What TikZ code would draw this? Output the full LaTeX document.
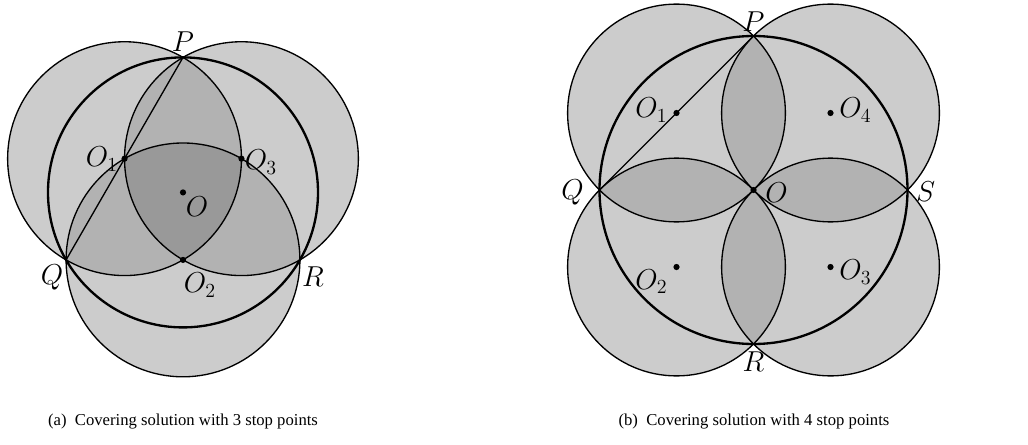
\documentclass[tikz,border=0pt]{standalone}
\usepackage{fontspec}
\setmainfont{Liberation Serif}
\usepackage{amsmath}
\usetikzlibrary{calc}
\tikzset{lbl/.style={inner sep=0pt,font=\fontsize{18.5}{22}\selectfont},
  capt/.style={inner sep=0pt,font=\fontsize{10}{12}\selectfont},
  thinline/.style={line width=0.8pt},
  bigline/.style={line width=1.4pt}}

\begin{document}
\begin{tikzpicture}[x=0.6pt,y=0.6pt,line join=round]
\useasboundingbox (0,0) rectangle (1028,444);
% --- (a) three stop points, discs on the sides of PQR
\begin{scope}[shift={(183,251.6)}]
\coordinate (aO) at (0,0);
\coordinate (aP) at (90:135); \coordinate (aQ) at (210:135); \coordinate (aR) at (330:135);
\coordinate (aO1) at ($(aP)!0.5!(aQ)$); \coordinate (aO2) at ($(aQ)!0.5!(aR)$); \coordinate (aO3) at ($(aP)!0.5!(aR)$);
\foreach \c in {aO1,aO2,aO3} \fill[black!20] (\c) circle (116.9);
\foreach \i/\j in {aO1/aO2,aO1/aO3,aO2/aO3} {\begin{scope} \clip (\i) circle (116.9); \fill[black!30] (\j) circle (116.9); \end{scope}}
\begin{scope} \clip (aO1) circle (116.9); \clip (aO2) circle (116.9); \fill[black!40] (aO3) circle (116.9); \end{scope}
\foreach \c in {aO1,aO2,aO3} \draw[thinline] (\c) circle (116.9);
\draw[bigline] (aO) circle (135);
\draw[thinline] (aP) -- (aQ);
\foreach \c in {aO,aO1,aO2,aO3} \fill (\c) circle (3.1);
\node[lbl] (laP) at (0,150.7) {$P$};
\node[lbl] (laQ) at (-131,-84.6) {$Q$};
\node[lbl] (laR) at (130,-84.6) {$R$};
\node[lbl] (laO) at (14,-14.6) {$O$};
\node[lbl] (laO1) at (-81,33.4) {$O_1$};
\node[lbl] (laO2) at (17,-92.6) {$O_2$};
\node[lbl] (laO3) at (78,30.4) {$O_3$};
\node[capt] (capa) at (0,-229.6) {(a)\ \ Covering solution with 3 stop points};
\end{scope}
% --- (b) four stop points, discs on the sides of the square PQRS
\begin{scope}[shift={(753.5,254)}]
\coordinate (bO) at (0,0);
\coordinate (bP) at (90:154); \coordinate (bQ) at (180:154); \coordinate (bR) at (270:154); \coordinate (bS) at (0:154);
\coordinate (bO1) at (135:108.9); \coordinate (bO2) at (225:108.9); \coordinate (bO3) at (315:108.9); \coordinate (bO4) at (45:108.9);
\foreach \c in {bO1,bO2,bO3,bO4} \fill[black!20] (\c) circle (108.9);
\foreach \i/\j in {bO1/bO4,bO4/bO3,bO3/bO2,bO2/bO1} {\begin{scope} \clip (\i) circle (108.9); \fill[black!30] (\j) circle (108.9); \end{scope}}
\foreach \c in {bO1,bO2,bO3,bO4} \draw[thinline] (\c) circle (108.9);
\draw[bigline] (bO) circle (154);
\draw[thinline] (bP) -- (bQ);
\foreach \c in {bO,bO1,bO2,bO3,bO4} \fill (\c) circle (3.1);
\node[lbl] (lbP) at (0,168.3) {$P$};
\node[lbl] (lbQ) at (-181,-2.7) {$Q$};
\node[lbl] (lbR) at (0,-171.7) {$R$};
\node[lbl] (lbS) at (172,-2) {$S$};
\node[lbl] (lbO) at (23,-3) {$O$};
\node[lbl] (lbO1) at (-102,80) {$O_1$};
\node[lbl] (lbO2) at (-102,-91.7) {$O_2$};
\node[lbl] (lbO3) at (102,-82) {$O_3$};
\node[lbl] (lbO4) at (102,80) {$O_4$};
\node[capt] (capb) at (0.5,-232) {(b)\ \ Covering solution with 4 stop points};
\end{scope}
\end{tikzpicture}
\end{document}
